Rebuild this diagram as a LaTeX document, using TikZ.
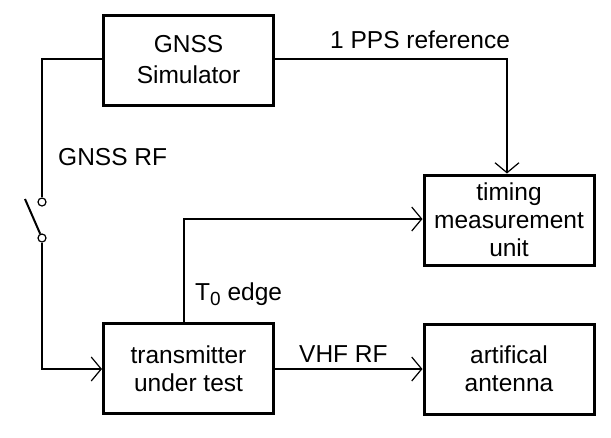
\documentclass[tikz,border=0pt]{standalone}
\usepackage{fontspec}
\setmainfont{Liberation Sans}
\usetikzlibrary{arrows.meta,calc}
\begin{document}
\begin{tikzpicture}[x=1pt,y=-1pt,
  box/.style={draw, line width=3pt, minimum width=170pt, minimum height=90pt, inner sep=0pt, align=center, font=\fontsize{24.5}{28}\selectfont},
  wire/.style={line width=1.2pt},
  arr/.style={wire, -{Straight Barb[length=10pt,width=24pt,line width=1.2pt]}},
  lbl/.style={anchor=base west, inner sep=0pt, font=\fontsize{24.5}{28}\selectfont},
  contact/.style={draw, circle, line width=1.2pt, minimum size=8pt, inner sep=0pt, fill=white}]
\useasboundingbox (0,0) rectangle (611,437);
\node[box, font=\fontsize{24.5}{31}\selectfont] (gnss) at (188.5,60) {GNSS\\Simulator};
\node[box] (tx) at (188.5,368.5) {transmitter\\under test};
\node[box] (tmu) at (509,220) {timing\\measurement\\unit};
\node[box] (ant) at (509,369) {artifical\\antenna};
\node[contact] (c1) at (42,202) {};
\node[contact] (c2) at (42,238) {};
\coordinate (bladetop) at (25,199);
\coordinate (k1) at (42,59);
\coordinate (k2) at (42,369);
\coordinate (k3) at (184,219);
\coordinate (k4) at (507,59);
\draw[wire] (gnss.west |- k1) -- (k1) -- (c1);
\draw[line width=2pt] (bladetop) -- (c2);
\draw[arr] (c2) -- (k2) -- (tx.west |- k2);
\draw[arr] (tx.north -| k3) -- (k3) -- (tmu.west |- k3);
\draw[arr] (gnss.east |- k4) -- (k4) -- (tmu.north -| k4);
\draw[arr] (tx.east |- k2) -- (ant.west |- k2);
\node[lbl] (l1) at (330,48) {1 PPS reference};
\node[lbl] (l2) at (58,165) {GNSS RF};
\node[lbl] (l3) at (195,300) {T\raisebox{-5pt}{\fontsize{19}{20}\selectfont 0} edge};
\node[lbl] (l4) at (299,362) {VHF RF};
\end{tikzpicture}
\end{document}
